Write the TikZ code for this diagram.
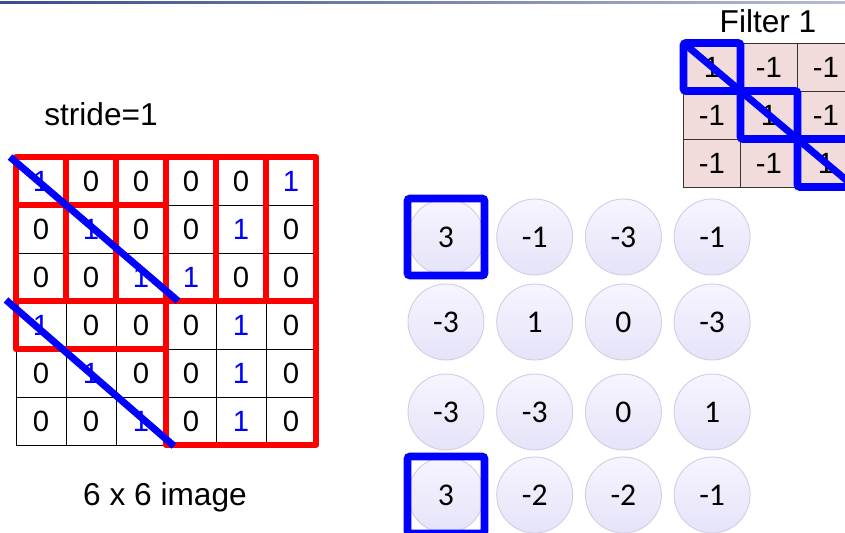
\documentclass[tikz,border=0pt]{standalone}
\usepackage{fontspec}
\setmainfont{Liberation Sans}
\newfontfamily\calfont{Carlito}
\usetikzlibrary{calc}
\definecolor{winred}{HTML}{FF0000}
\definecolor{hitblue}{HTML}{0000FF}
\definecolor{filtpink}{HTML}{F2DCDB}
\definecolor{outtop}{HTML}{F6F5FF}
\definecolor{outbot}{HTML}{E5E3F8}
\definecolor{outedge}{HTML}{D2CFE4}
\definecolor{topleft}{HTML}{3A4C8C}
\definecolor{topright}{HTML}{B8BCCC}

\begin{document}
\begin{tikzpicture}[x=0.03cm, y=-0.03cm,
  cell/.style={rectangle, draw=black, line width=0.7pt,
    minimum width=1.5cm, minimum height=1.44cm,
    inner sep=0pt, outer sep=0pt, font=\fontsize{25}{25}\selectfont},
  fcell/.style={cell, minimum width=1.71cm, fill=filtpink, draw=black!80},
  outnode/.style={circle, minimum size=2.28cm, inner sep=0pt,
    top color=outtop, bottom color=outbot, draw=outedge, line width=0.8pt,
    font=\calfont\fontsize{27}{27}\selectfont},
  lbl/.style={font=\fontsize{27}{30}\selectfont},
  win/.style={draw=winred, line width=5pt, line join=round},
  diag/.style={draw=hitblue, line width=6pt},
  hit/.style={draw=hitblue, line width=6.5pt, rounded corners=2pt}
]
  \useasboundingbox (0,0) rectangle (845,532);
  \shade[left color=topleft, right color=topright] (0,1) rectangle (845,3);

  % 6 x 6 image
  \foreach \r/\row in {0/{1,0,0,0,0,1}, 1/{0,1,0,0,1,0}, 2/{0,0,1,1,0,0},
                       3/{1,0,0,0,1,0}, 4/{0,1,0,0,1,0}, 5/{0,0,1,0,1,0}}{
    \foreach \v [count=\c from 0] in \row {
      \node[cell] (g-\r-\c) at (41+50*\c, 181+48*\r)
        {\ifnum\v=1\relax\color{hitblue}\fi\v};
    }
  }

  % filter
  \foreach \r in {0,1,2}{
    \foreach \c in {0,1,2}{
      \node[fcell] (f-\r-\c) at (712+57*\c, 67+48*\r)
        {\ifnum\r=\c\relax 1\else -1\fi};
    }
  }

  % feature map
  \foreach \r/\y/\row in {0/237/{3,-1,-3,-1}, 1/322/{-3,1,0,-3},
                          2/412/{-3,-3,0,1}, 3/495/{3,-2,-2,-1}}{
    \foreach \v [count=\c from 0] in \row {
      \node[outnode] (o-\r-\c) at ({446+88.7*\c}, \y) {\v};
    }
  }

  % windows, stride 1
  \foreach \r/\c in {0/0,0/1,0/2,0/3,1/0,3/3}{
    \pgfmathtruncatemacro\rr{\r+2}
    \pgfmathtruncatemacro\cc{\c+2}
    \draw[win] (g-\r-\c.north west) rectangle (g-\rr-\cc.south east);
  }

  \draw[diag] ($(g-0-0.north west)+(-6,0)$) -- ($(g-2-2.south east)+(12,0)$);
  \draw[diag] ($(g-3-0.north west)+(-10,-1)$) -- ($(g-5-2.south east)+(8,1)$);

  \draw[diag] (f-0-0.north west) -- (f-2-2.south east);
  \foreach \i in {0,1,2}{
    \draw[hit] (f-\i-\i.north west) rectangle (f-\i-\i.south east);
  }

  \draw[hit] (o-0-0.west |- o-0-0.north) rectangle (o-0-0.east |- o-0-0.south);
  \draw[hit] (o-3-0.west |- o-3-0.north) rectangle (o-3-0.east |- o-3-0.south);

  \node[lbl] (stride) at (101,114) {stride=1};
  \node[lbl] (imgname) at (165,497) {6 x 6 image};
  \node[lbl] (filtname) at (768,21) {Filter 1};
\end{tikzpicture}
\end{document}
